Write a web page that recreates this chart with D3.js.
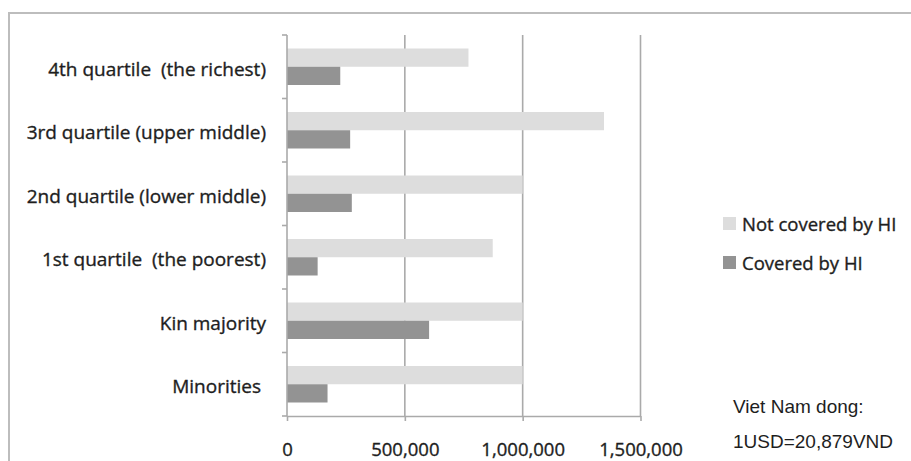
<!DOCTYPE html>
<html>
<head>
<meta charset="utf-8">
<script src="https://cdn.jsdelivr.net/npm/d3@7"></script>
<style>
  html, body { margin: 0; padding: 0; background: #fff; }
  svg { display: block; }
  text { stroke-width: 0.35px; }
</style>
</head>
<body>
<svg id="chart" width="911" height="461"></svg>
<script>
// Categories, top to bottom
const categories = [
  "4th quartile  (the richest)",
  "3rd quartile (upper middle)",
  "2nd quartile (lower middle)",
  "1st quartile  (the poorest)",
  "Kin majority",
  "Minorities "
];
// Expenditure (VND)
const notCovered = [770000, 1345000, 1000000, 873000, 1000000, 1000000];
const covered    = [226000, 268000, 275000, 130000, 603000, 172000];
const seriesNames = ["Not covered by HI", "Covered by HI"];
const xTicks = [0, 500000, 1000000, 1500000];
const noteLines = ["Viet Nam dong:", "1USD=20,879VND"];

const colors = { "Not covered by HI": "#dddddd", "Covered by HI": "#939393" };
const gridColor = "#aaaaaa";
const textColor = "#1e1e1e";
const labelFont = "'Open Sans', sans-serif";

const svg = d3.select("#chart");

// frame
svg.append("rect")
  .attr("x", 9).attr("y", 13)
  .attr("width", 940).attr("height", 480)
  .attr("fill", "none")
  .attr("stroke", "#bdbdbd")
  .attr("stroke-width", 2);

const plot = { left: 287, right: 640.5, top: 35, bottom: 416 };

const x = d3.scaleLinear().domain([0, 1500000]).range([plot.left, plot.right]);
const y = d3.scaleBand().domain(categories).range([plot.top, plot.bottom]);
const sub = d3.scaleBand().domain(seriesNames).range([0, y.bandwidth()])
  .paddingInner(0).paddingOuter(0.74);

// vertical gridlines
svg.append("g").selectAll("line")
  .data(xTicks.filter(d => d > 0))
  .join("line")
  .attr("x1", d => x(d)).attr("x2", d => x(d))
  .attr("y1", plot.top).attr("y2", plot.bottom)
  .attr("stroke", gridColor).attr("stroke-width", 1.6);

// bars
const rows = categories.map((c, i) => ({ c, vals: [
  { s: seriesNames[0], v: notCovered[i] },
  { s: seriesNames[1], v: covered[i] }
]}));

const groups = svg.append("g").selectAll("g")
  .data(rows).join("g")
  .attr("transform", d => `translate(0,${y(d.c)})`);

groups.selectAll("rect")
  .data(d => d.vals).join("rect")
  .attr("x", x(0))
  .attr("y", d => sub(d.s))
  .attr("width", d => x(d.v) - x(0))
  .attr("height", sub.bandwidth())
  .attr("fill", d => colors[d.s]);

// x axis
const xAxis = svg.append("g")
  .attr("transform", `translate(0,${plot.bottom})`)
  .call(d3.axisBottom(x).tickValues(xTicks).tickSize(5).tickSizeOuter(0)
    .tickFormat(d3.format(",")));
xAxis.select(".domain").attr("stroke", gridColor).attr("stroke-width", 1.6);
xAxis.selectAll(".tick line").attr("stroke", gridColor).attr("stroke-width", 1.6);
xAxis.selectAll(".tick text")
  .attr("y", 27)
  .attr("fill", textColor)
  .attr("stroke", textColor)
  .style("font-family", labelFont)
  .style("font-size", "18.5px");

// y axis: ticks sit on the category boundaries
const yAxis = svg.append("g").attr("transform", `translate(${plot.left},0)`);
yAxis.append("line")
  .attr("x1", 0).attr("x2", 0)
  .attr("y1", plot.top).attr("y2", plot.bottom)
  .attr("stroke", gridColor).attr("stroke-width", 1.6);
const bounds = categories.map(c => y(c)).concat([plot.bottom]);
yAxis.selectAll("line.tk")
  .data(bounds).join("line").attr("class", "tk")
  .attr("x1", -5).attr("x2", 0)
  .attr("y1", d => d).attr("y2", d => d)
  .attr("stroke", gridColor).attr("stroke-width", 1.6);

yAxis.selectAll("text")
  .data(categories).join("text")
  .attr("x", -21)
  .attr("y", d => y(d) + y.bandwidth() / 2 + 2)
  .attr("text-anchor", "end")
  .attr("dominant-baseline", "central")
  .attr("fill", textColor)
  .attr("stroke", textColor)
  .style("font-family", labelFont)
  .style("font-size", "19px")
  .style("white-space", "pre")
  .text(d => d);

// legend
const legend = svg.append("g").attr("transform", "translate(723,217)");
const li = legend.selectAll("g").data(seriesNames).join("g")
  .attr("transform", (d, i) => `translate(0,${i * 39})`);
li.append("rect")
  .attr("width", 13).attr("height", 13)
  .attr("fill", d => colors[d]);
li.append("text")
  .attr("x", 19).attr("y", 6.5)
  .attr("dominant-baseline", "central")
  .attr("fill", textColor)
  .attr("stroke", textColor)
  .style("font-family", labelFont)
  .style("font-size", "18.5px")
  .text(d => d);

// currency note
svg.append("g").selectAll("text")
  .data(noteLines).join("text")
  .attr("x", 733)
  .attr("y", (d, i) => 413 + i * 35)
  .attr("fill", textColor)
  .style("font-family", "'Liberation Sans', Arial, sans-serif")
  .style("font-size", "19px")
  .text(d => d);
</script>
</body>
</html>
